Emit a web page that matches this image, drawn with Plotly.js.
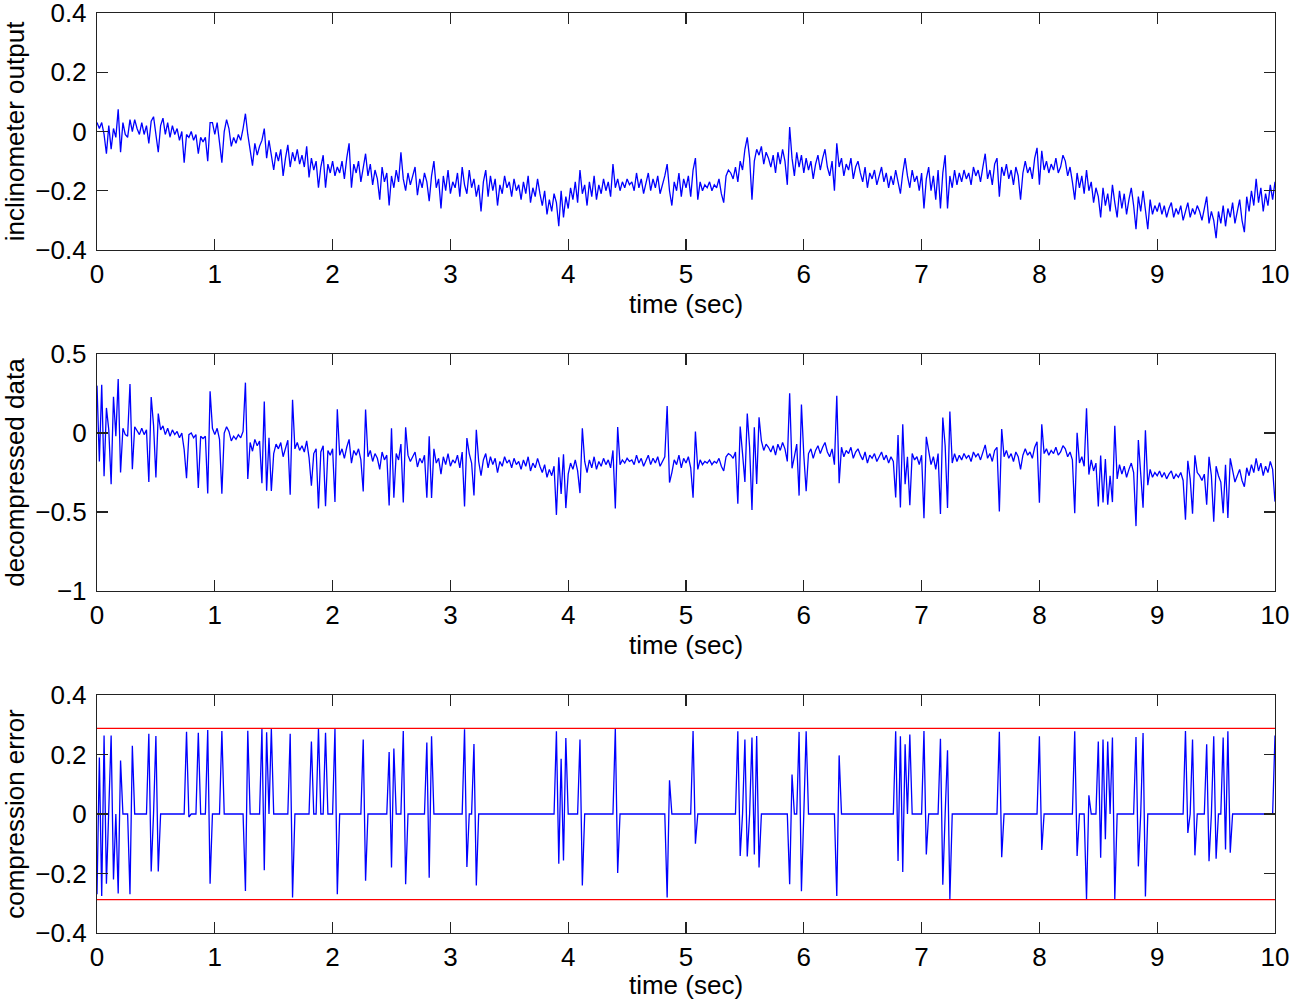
<!DOCTYPE html>
<html>
<head>
<meta charset="utf-8">
<script src="https://cdn.plot.ly/plotly-3.0.1.min.js"></script>
<style>body{margin:0;background:#fff}</style>
</head>
<body>
<div id="chart" style="width:1290px;height:1000px"></div>
<script>
var dt = 0.02; // spacing of the samples below (sec)

// inclinometer output, one value every dt from 0 to 10 s
var inclinometer = [
  0.03, 0.01, 0.03, -0.01, -0.075, 0.02, -0.06, 0.01, -0.02, 0.075, -0.07, 0.03, -0.01, -0.02, 0.04, 0.00, 0.04, 0.01, -0.01, 0.03, -0.01, 0.02, -0.04, 0.035, 0.05,
  -0.02, -0.07, 0.02, 0.045, -0.01, 0.03, -0.02, 0.02, -0.01, 0.01, -0.03, 0.00, -0.105, -0.01, -0.02, 0.00, -0.03, -0.01, -0.075, -0.02, -0.035, -0.02, -0.10, 0.03, 0.03,
  -0.01, 0.03, -0.04, -0.105, 0.00, 0.04, 0.01, -0.05, -0.02, -0.04, -0.01, -0.03, 0.01, 0.06, -0.01, -0.06, -0.115, -0.04, -0.08, -0.05, -0.03, 0.01, -0.09, -0.03, -0.08,
  -0.13, -0.07, -0.10, -0.06, -0.15, -0.09, -0.045, -0.12, -0.07, -0.10, -0.06, -0.11, -0.08, -0.12, -0.05, -0.155, -0.09, -0.13, -0.10, -0.19, -0.12, -0.08, -0.19, -0.11, -0.14,
  -0.10, -0.15, -0.12, -0.14, -0.10, -0.16, -0.09, -0.04, -0.19, -0.11, -0.14, -0.10, -0.17, -0.12, -0.075, -0.15, -0.11, -0.18, -0.13, -0.16, -0.23, -0.12, -0.17, -0.14, -0.25,
  -0.15, -0.19, -0.13, -0.17, -0.07, -0.16, -0.20, -0.14, -0.18, -0.15, -0.12, -0.215, -0.16, -0.19, -0.14, -0.17, -0.235, -0.15, -0.10, -0.19, -0.16, -0.26, -0.15, -0.20, -0.13,
  -0.21, -0.17, -0.19, -0.14, -0.22, -0.12, -0.18, -0.21, -0.13, -0.19, -0.16, -0.22, -0.18, -0.27, -0.17, -0.13, -0.22, -0.15, -0.20, -0.16, -0.25, -0.18, -0.21, -0.15, -0.19,
  -0.17, -0.22, -0.16, -0.20, -0.18, -0.23, -0.17, -0.21, -0.15, -0.24, -0.19, -0.22, -0.16, -0.21, -0.25, -0.20, -0.28, -0.23, -0.27, -0.21, -0.24, -0.32, -0.20, -0.29, -0.22,
  -0.26, -0.19, -0.23, -0.17, -0.24, -0.13, -0.21, -0.18, -0.25, -0.17, -0.22, -0.15, -0.23, -0.18, -0.21, -0.16, -0.20, -0.17, -0.22, -0.11, -0.19, -0.16, -0.20, -0.17, -0.19,
  -0.16, -0.18, -0.17, -0.20, -0.14, -0.19, -0.16, -0.21, -0.17, -0.14, -0.20, -0.16, -0.19, -0.15, -0.21, -0.18, -0.15, -0.11, -0.20, -0.25, -0.17, -0.20, -0.14, -0.22, -0.16,
  -0.19, -0.15, -0.22, -0.13, -0.09, -0.23, -0.17, -0.20, -0.18, -0.19, -0.17, -0.20, -0.18, -0.19, -0.16, -0.21, -0.24, -0.15, -0.13, -0.14, -0.16, -0.12, -0.17, -0.10, -0.13,
  -0.06, -0.02, -0.09, -0.23, -0.10, -0.06, -0.08, -0.05, -0.11, -0.07, -0.09, -0.12, -0.08, -0.14, -0.07, -0.11, -0.06, -0.10, -0.18, 0.015, -0.09, -0.15, -0.07, -0.12, -0.08,
  -0.14, -0.09, -0.13, -0.10, -0.16, -0.11, -0.08, -0.13, -0.09, -0.06, -0.12, -0.15, -0.10, -0.20, -0.04, -0.12, -0.09, -0.15, -0.11, -0.13, -0.09, -0.16, -0.12, -0.10, -0.14,
  -0.17, -0.12, -0.19, -0.14, -0.16, -0.13, -0.18, -0.15, -0.12, -0.17, -0.14, -0.19, -0.15, -0.18, -0.13, -0.17, -0.21, -0.14, -0.09, -0.15, -0.19, -0.13, -0.17, -0.15, -0.20,
  -0.14, -0.26, -0.16, -0.12, -0.20, -0.15, -0.23, -0.13, -0.26, -0.14, -0.08, -0.26, -0.15, -0.19, -0.13, -0.18, -0.14, -0.17, -0.13, -0.16, -0.14, -0.18, -0.12, -0.15, -0.13,
  -0.17, -0.12, -0.075, -0.16, -0.13, -0.18, -0.11, -0.09, -0.22, -0.12, -0.15, -0.11, -0.16, -0.13, -0.18, -0.12, -0.15, -0.23, -0.14, -0.10, -0.14, -0.12, -0.16, -0.09, -0.055,
  -0.18, -0.065, -0.13, -0.10, -0.14, -0.11, -0.13, -0.09, -0.14, -0.12, -0.08, -0.10, -0.15, -0.12, -0.17, -0.23, -0.14, -0.19, -0.15, -0.21, -0.13, -0.20, -0.17, -0.24, -0.19,
  -0.22, -0.29, -0.19, -0.25, -0.21, -0.27, -0.18, -0.24, -0.29, -0.20, -0.26, -0.21, -0.28, -0.23, -0.19, -0.25, -0.33, -0.22, -0.27, -0.20, -0.26, -0.33, -0.23, -0.28, -0.25,
  -0.27, -0.24, -0.28, -0.25, -0.29, -0.26, -0.24, -0.29, -0.26, -0.28, -0.25, -0.30, -0.27, -0.24, -0.29, -0.26, -0.28, -0.25, -0.27, -0.30, -0.26, -0.22, -0.31, -0.27, -0.30,
  -0.36, -0.27, -0.31, -0.25, -0.32, -0.26, -0.29, -0.24, -0.31, -0.27, -0.23, -0.30, -0.34, -0.22, -0.27, -0.20, -0.25, -0.16, -0.24, -0.19, -0.27, -0.21, -0.25, -0.18, -0.23,
  -0.17
];

// compression error: ~0 everywhere except these samples
var errTimes = [
  0.00, 0.02, 0.04, 0.06, 0.08, 0.12, 0.14, 0.18, 0.20, 0.28, 0.30,
  0.44, 0.46, 0.50, 0.52, 0.76, 0.78, 0.86, 0.94, 0.96, 1.06,
  1.26, 1.28, 1.40, 1.42, 1.44, 1.48, 1.64, 1.66, 1.82, 1.88, 1.94,
  2.02, 2.04, 2.26, 2.28, 2.48, 2.50, 2.52, 2.60, 2.62, 2.80, 2.82, 2.84,
  3.12, 3.14, 3.20, 3.22, 3.90, 3.92, 3.94, 3.96, 3.98,
  4.10, 4.12, 4.40, 4.42, 4.84, 4.86,
  5.06, 5.08, 5.44, 5.46, 5.50, 5.52, 5.56, 5.58, 5.60, 5.62, 5.88, 5.90, 5.96, 5.98,
  6.02, 6.28, 6.30, 6.78, 6.80, 6.82, 6.84, 6.86, 6.90,
  7.02, 7.04, 7.16, 7.18, 7.22, 7.24, 7.66, 7.68,
  8.00, 8.02, 8.30, 8.32, 8.40, 8.42, 8.50, 8.52, 8.54, 8.56, 8.58, 8.62, 8.64, 8.82, 8.84, 8.88, 8.90,
  9.24, 9.26, 9.30, 9.32, 9.42, 9.44, 9.48, 9.50, 9.56, 9.58, 9.60, 9.62,
  10.00
];
var errValues = [
  -0.27, 0.19, -0.276, 0.264, -0.234, 0.264, -0.22, -0.267, 0.18, -0.27, 0.229,
  0.27, -0.193, 0.262, -0.193, 0.276, -0.01, 0.273, 0.282, -0.234, 0.279,
  -0.259, 0.28, 0.287, -0.189, 0.275, 0.287, 0.27, -0.281, 0.244, 0.287, 0.273,
  0.287, -0.27, 0.25, -0.224, 0.208, -0.18, 0.22, 0.279, -0.236, 0.24, -0.214, 0.261,
  0.285, -0.178, 0.235, -0.24, 0.278, -0.167, 0.186, -0.156, 0.255,
  0.25, -0.24, 0.287, -0.198, -0.281, 0.113,
  0.279, -0.1, 0.278, -0.141, 0.25, -0.143, 0.257, -0.136, 0.262, -0.18, -0.236, 0.133, 0.276, -0.26,
  0.278, -0.276, 0.197, 0.278, -0.158, 0.261, -0.195, 0.234, 0.267,
  0.279, -0.136, 0.253, -0.238, 0.214, -0.286, 0.276, -0.145,
  0.261, -0.121, 0.278, -0.141, -0.286, 0.063, 0.244, -0.147, 0.25, -0.085, 0.244, 0.257, -0.286, 0.259, -0.176, 0.272, -0.277,
  0.279, -0.064, 0.25, -0.139, 0.234, -0.159, 0.261, -0.15, 0.257, -0.119, 0.278, -0.13,
  0.264
];
var errBound = 0.288; // red limit lines

var xTicks = [0, 1, 2, 3, 4, 5, 6, 7, 8, 9, 10];
var yTicksTop = [-0.4, -0.2, 0, 0.2, 0.4];
var yTicksMid = [-1, -0.5, 0, 0.5];
var yTicksErr = [-0.4, -0.2, 0, 0.2, 0.4];

var time = inclinometer.map(function(v, i) { return +(i * dt).toFixed(2); });
var err = inclinometer.map(function() { return 0; });
errTimes.forEach(function(t, k) { err[Math.round(t / dt)] = errValues[k]; });
// error = original - decompressed
var decompressed = inclinometer.map(function(v, i) { return v - err[i]; });

var fnt = {family: 'Liberation Sans, Arial, sans-serif', size: 26, color: '#000'};
var blue = {color: '#0000ff', width: 1.3};
var red = {color: '#ff0000', width: 1.3};

var traces = [
  {x: time, y: inclinometer, xaxis: 'x', yaxis: 'y', mode: 'lines', line: blue},
  {x: time, y: decompressed, xaxis: 'x2', yaxis: 'y2', mode: 'lines', line: blue},
  {x: time, y: err, xaxis: 'x3', yaxis: 'y3', mode: 'lines', line: blue},
  {x: [0, 10], y: [errBound, errBound], xaxis: 'x3', yaxis: 'y3', mode: 'lines', line: red},
  {x: [0, 10], y: [-errBound, -errBound], xaxis: 'x3', yaxis: 'y3', mode: 'lines', line: red}
];

function xax(anchor) {
  return {
    anchor: anchor, domain: [0, 1], range: [0, 10], tickvals: xTicks,
    showline: true, mirror: 'ticks', linecolor: '#222', linewidth: 1.2,
    ticks: 'inside', ticklen: 11, tickwidth: 1.2, tickcolor: '#222',
    showgrid: false, zeroline: false, tickfont: fnt, ticklabelstandoff: 1,
    ticklabeloverflow: 'allow',
    title: {text: 'time (sec)', font: fnt, standoff: 4}, automargin: false
  };
}
function yax(anchor, dom, rng, tv, label) {
  return {
    anchor: anchor, domain: dom, range: rng, tickvals: tv,
    showline: true, mirror: 'ticks', linecolor: '#222', linewidth: 1.2,
    ticks: 'inside', ticklen: 11, tickwidth: 1.2, tickcolor: '#222',
    showgrid: false, zeroline: false, tickfont: fnt, ticklabelstandoff: 4,
    ticklabeloverflow: 'allow',
    title: {text: label, font: fnt, standoff: 10}, automargin: false
  };
}

var layout = {
  width: 1290, height: 1000,
  margin: {l: 97, r: 15, t: 13, b: 67},
  paper_bgcolor: '#fff', plot_bgcolor: '#fff',
  showlegend: false,
  xaxis: xax('y'),
  xaxis2: xax('y2'),
  xaxis3: xax('y3'),
  yaxis: yax('x', [0.7424, 1], [-0.4, 0.4], yTicksTop, 'inclinometer output'),
  yaxis2: yax('x2', [0.3717, 0.6293], [-1, 0.5], yTicksMid, 'decompressed data'),
  yaxis3: yax('x3', [0, 0.2587], [-0.4, 0.4], yTicksErr, 'compression error')
};

Plotly.newPlot('chart', traces, layout, {staticPlot: true});
</script>
</body>
</html>
